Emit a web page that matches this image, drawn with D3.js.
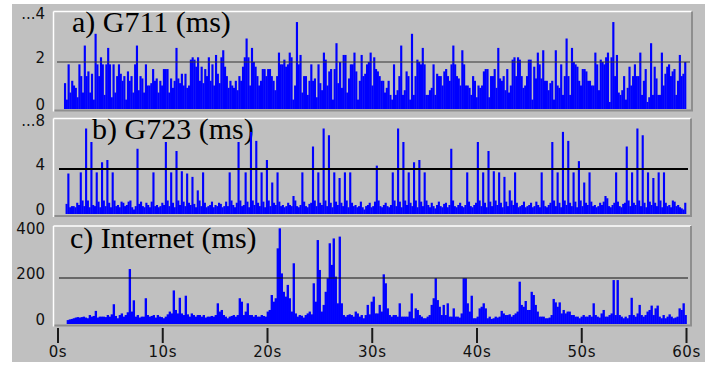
<!DOCTYPE html>
<html>
<head>
<meta charset="utf-8">
<script src="https://cdn.jsdelivr.net/npm/d3@7"></script>
<style>
  body { margin: 0; background: #fff; }
  svg { display: block; }
</style>
</head>
<body>
<div id="chart"></div>
<script>
// ── Data ───────────────────────────────────────────────────────────────────
const g711Values = [
  1.1, 0.4, 1.9, 0.7, 1.2, 1.0, 0.9, 0.5, 1.9, 1.4,
  0.7, 2.7, 1.4, 1.6, 0.7, 1.5, 0.4, 3.2, 1.9, 1.4,
  2.2, 1.9, 0.6, 1.9, 2.6, 1.9, 0.5, 1.9, 0.7, 1.4,
  1.9, 1.5, 1.2, 1.4, 0.4, 1.6, 1.2, 1.4, 0.7, 1.9,
  2.7, 0.8, 1.4, 1.3, 0.7, 1.9, 1.0, 1.0, 1.1, 1.7,
  1.2, 1.3, 0.7, 1.2, 1.0, 1.7, 1.7, 1.7, 0.7, 1.3,
  0.9, 1.2, 2.6, 1.3, 1.1, 1.5, 1.0, 1.5, 0.9, 1.0,
  2.1, 2.2, 2.1, 1.8, 2.2, 1.2, 1.8, 1.1, 1.7, 1.4,
  2.2, 1.2, 1.9, 1.0, 2.3, 1.5, 1.1, 2.2, 2.5, 1.8,
  1.4, 0.9, 1.2, 1.0, 0.9, 1.2, 0.8, 1.4, 1.2, 1.8,
  2.2, 3.0, 2.2, 1.0, 2.6, 2.0, 1.8, 1.4, 1.0, 1.2,
  1.7, 1.7, 1.4, 1.7, 1.7, 1.4, 1.2, 0.8, 1.4, 2.4,
  1.9, 1.9, 2.1, 1.8, 1.9, 2.4, 2.2, 0.4, 1.0, 3.7,
  1.9, 2.3, 0.7, 1.4, 1.4, 0.6, 1.2, 1.9, 1.2, 1.3,
  0.5, 1.9, 1.1, 0.8, 2.4, 2.1, 1.0, 1.6, 1.7, 0.4,
  1.7, 2.8, 1.1, 2.0, 0.9, 2.3, 2.3, 0.7, 1.3, 1.9,
  1.9, 2.4,
  1.6, 0.4, 1.2, 2.3, 1.4, 1.5, 1.9, 2.0, 2.4, 1.0,
  2.2, 1.7, 1.6, 1.4, 1.2, 1.2, 0.7, 0.9, 1.2, 0.6,
  0.4, 1.9, 0.6, 0.8, 1.4, 2.7, 0.6, 0.8, 1.6, 1.4,
  0.4, 3.2, 0.6, 1.4, 2.1, 2.0, 1.9, 2.6, 1.9, 0.6,
  0.6, 0.8, 0.9, 1.9, 0.6, 1.5, 1.4, 1.4, 1.0, 1.6,
  1.7, 1.4, 1.2, 1.9, 2.7, 1.9, 1.4, 1.3, 1.0, 2.5,
  1.9, 1.0, 1.0, 0.9, 0.6, 1.4, 1.2, 0.5, 1.0, 0.9,
  1.0, 1.6, 1.7, 1.7, 0.5, 1.4, 1.4, 1.7, 0.9, 2.6,
  1.3, 1.2, 1.4, 0.8, 1.7, 0.7, 1.0, 2.1, 2.2, 1.4,
  2.2, 2.1, 1.4, 0.9, 1.0, 1.4, 2.1, 2.1, 0.4, 1.8,
  1.3, 2.4, 1.9, 1.3, 2.5, 1.2, 1.2, 0.8, 1.1, 1.2,
  0.4, 2.5, 1.0, 0.9, 1.9, 0.6, 1.4, 3.0, 1.4, 0.6,
  2.6, 2.0, 1.9, 1.8, 1.2, 1.0, 1.7, 1.7, 1.6, 1.2,
  1.2, 1.0, 1.0, 2.4, 1.9, 0.8, 2.1, 2.0, 1.9, 2.2,
  2.4, 0.3, 2.2, 3.7, 1.4, 2.3, 0.7, 0.6, 0.8, 1.4,
  0.4, 0.9, 1.8, 1.0, 1.4, 1.9, 1.4, 1.4, 2.4, 0.6,
  1.2, 1.7, 0.3, 0.5, 2.8, 0.6, 1.8, 1.3, 0.6, 0.6,
  2.4, 1.0, 1.5, 1.8, 1.9, 1.4, 1.6, 1.7, 0.6, 1.2,
  2.3, 1.4, 1.5, 2.0
]

const g723Values = [
  0.9, 3.6, 0.6, 0.7, 0.7, 0.6, 1.0, 0.8, 3.7, 1.2,
  0.7, 7.6, 1.2, 0.6, 6.4, 0.8, 0.7, 3.7, 1.1, 0.6,
  4.6, 1.2, 0.7, 4.8, 1.0, 0.6, 3.7, 1.2, 0.7, 0.8,
  0.6, 1.1, 1.0, 0.7, 0.8, 1.1, 1.2, 0.6, 0.4, 0.7,
  5.8, 0.9, 1.1, 0.7, 0.6, 1.0, 0.8, 0.6, 1.1, 3.7,
  0.7, 0.8, 0.6, 0.7, 1.0, 0.8, 6.4, 1.2, 0.7, 3.7,
  1.0, 0.6, 5.6, 1.2, 0.8, 3.8, 1.1, 0.7, 3.6, 1.0,
  0.8, 3.3, 0.9, 0.6, 2.1, 1.2, 0.7, 3.7, 1.0, 0.6,
  0.7, 0.8, 1.1, 0.6, 0.8, 0.7, 1.0, 0.9, 0.6, 0.7,
  1.1, 0.7, 3.7, 1.2, 0.8, 0.6, 1.0, 6.4, 1.2, 0.7,
  0.8, 3.7, 1.1, 0.6, 7.3, 1.2, 0.8, 6.5, 1.0, 0.7,
  3.7, 1.1, 0.6, 4.8, 1.2, 0.7, 2.8, 1.0, 0.8, 3.7,
  1.1, 0.7, 0.8, 0.6, 0.7, 1.0, 0.8, 0.7, 1.6, 1.2,
  0.7, 0.6, 0.8, 3.7, 1.1, 0.7, 0.6, 0.9, 1.0, 6.0,
  1.2, 0.7, 3.7, 1.0, 0.8, 7.6, 1.2, 0.7, 7.0, 1.0,
  0.6, 3.7, 1.1, 0.8, 3.2, 1.0, 0.7, 3.7, 1.2, 0.6,
  3.7, 1.0, 0.7, 0.8, 0.6, 0.7, 1.1, 0.6, 0.4, 0.7,
  0.8, 1.0, 0.6, 0.7, 1.1, 4.3, 1.2, 0.7, 0.6, 0.8,
  1.0, 0.7, 0.6, 0.8, 3.7, 1.2, 0.7, 7.6, 1.1, 0.6,
  6.4, 1.2, 0.8, 3.7, 1.0, 0.7, 4.6, 1.2, 0.6, 4.8,
  1.1, 0.7, 3.7, 1.2, 0.8, 0.6, 1.0, 0.7, 0.5, 0.8,
  1.1, 0.7, 0.6, 0.9, 1.0, 0.6, 0.8, 5.8, 1.2, 0.7,
  0.6, 0.8, 1.0, 0.7, 0.6, 0.8, 3.7, 1.1, 0.7, 0.6,
  0.8, 1.0, 6.4, 1.2, 0.7, 3.7, 1.0, 0.6, 5.6, 1.1,
  0.7, 3.8, 1.2, 0.8, 3.7, 1.0, 0.6, 3.3, 1.1, 0.7,
  2.1, 1.2, 0.8, 3.7, 1.0, 0.6, 0.7, 0.8, 1.1, 0.6,
  0.7, 0.8, 1.0, 0.6, 0.7, 1.1, 0.8, 0.6, 3.7, 1.2,
  0.7, 0.6, 0.8, 1.0, 6.4, 1.2, 0.7, 3.7, 1.0, 0.6,
  7.3, 1.2, 0.8, 6.5, 1.0, 0.7, 3.7, 1.1, 0.6, 4.7,
  1.2, 0.7, 2.8, 1.0, 0.8, 3.7, 1.1, 0.7, 0.8, 0.6,
  0.7, 1.0, 0.8, 1.1, 1.6, 1.4, 0.7, 0.6, 0.8, 1.0,
  3.7, 1.1, 0.7, 0.6, 0.9, 1.0, 6.0, 1.2, 0.7, 3.7,
  1.0, 0.8, 7.6, 1.2, 0.7, 7.0, 1.0, 0.6, 3.7, 1.1,
  0.8, 3.2, 1.0, 0.7, 3.7, 1.2, 0.6, 3.7, 1.0, 0.7,
  0.8, 0.6, 1.2, 1.1, 0.7, 0.8, 0.6, 0.5, 0.4, 1.0
]

const internetValues = [
  17, 20, 22, 25, 28, 30, 28, 30, 32, 28,
  25, 39, 32, 35, 57, 28, 32, 32, 32, 30,
  39, 32, 42, 86, 35, 25, 39, 46, 32, 39,
  51, 239, 54, 103, 32, 39, 28, 32, 32, 112,
  39, 32, 35, 39, 28, 39, 32, 30, 25, 32,
  42, 54, 46, 146, 61, 46, 114, 46, 39, 123,
  42, 32, 46, 39, 32, 39, 39, 32, 39, 28,
  32, 32, 35, 32, 39, 90, 54, 61, 39, 32,
  25, 32, 35, 39, 32, 39, 112, 97, 39, 54,
  90, 39, 39, 32, 39, 32, 32, 39, 35, 32,
  54, 61, 126, 97, 112, 329, 416, 220, 140, 119,
  170, 112, 54, 264, 46, 32, 39, 36, 28, 39,
  46, 54, 42, 177, 97, 365, 235, 54, 83, 140,
  199, 351, 257, 372, 206, 90, 380, 90, 39, 32,
  39, 42, 39, 32, 54, 46,
  32, 39, 25, 39, 83, 42, 97, 119, 46, 46,
  83, 54, 216, 177, 68, 39, 32, 39, 39, 32,
  90, 32, 32, 32, 32, 54, 133, 25, 68, 61,
  39, 32, 25, 25, 32, 39, 83, 112, 199, 104,
  75, 39, 83, 39, 90, 32, 32, 68, 32, 32,
  28, 46, 199, 199, 90, 54, 123, 25, 25, 32,
  68, 75, 90, 68, 25, 32, 22, 25, 32, 28,
  32, 57, 46, 39, 39, 42, 32, 39, 46, 54,
  184, 83, 75, 100, 61, 61, 140, 126, 83, 54,
  32, 32, 32, 25, 25, 28, 39, 109, 94, 75,
  94, 46, 61, 46, 54, 54, 39, 39, 32, 32,
  25, 32, 39, 32, 32, 39, 32, 90, 39, 32,
  28, 46, 61, 32, 32, 39, 46, 191, 39, 191,
  39, 32, 25, 32, 25, 39, 114, 39, 32, 46,
  83, 39, 32, 39, 54, 61, 80, 39, 68, 80,
  32, 25, 39, 25, 32, 42, 32, 25, 28, 32,
  68, 61, 90, 39
]

const panelTitles = ['a) G711 (ms)', 'b) G723 (ms)', 'c) Internet (ms)']
const refLevels = [2, 4, 200]
const g711Ticks = [0, 2, 4]
const g711TickLabels = ['0', '2', '...4']
const g723Ticks = [0, 4, 8]
const g723TickLabels = ['0', '4', '...8']
const internetTicks = [0, 200, 400]
const internetTickLabels = ['0', '200', '400']
const timeTicks = [0, 10, 20, 30, 40, 50, 60]
const timeTickLabels = ['0s', '10s', '20s', '30s', '40s', '50s', '60s']

// ── Layout ─────────────────────────────────────────────────────────────────
const W = 716
const H = 366
const BG = '#c0c0c0'
const BLUE = '#0000ff'
const LABEL_FONT = "'DejaVu Sans', sans-serif"
const TITLE_FONT = "'Liberation Serif', 'Times New Roman', serif"

const svg = d3.select('#chart')
  .append('svg')
  .attr('width', W)
  .attr('height', H)

svg.append('rect').attr('x', 12).attr('y', 4).attr('width', 693).attr('height', 358).attr('fill', BG)

const x = d3.scaleLinear().domain([0, 60]).range([58, 686.5])

const panels = [
  { values: g711Values, t0: 0.57, t1: 59.95, yMax: 4, yRange: [109, 15], ticks: g711Ticks, tickLabels: g711TickLabels,
    ref: refLevels[0], title: panelTitles[0], box: { l: 53.5, t: 11.5, r: 692, b: 110.5 },
    titleX: 72, titleY: 32, refColor: '#333', refWidth: 1.2, refX: [57, 690] },
  { values: g723Values, t0: 0.72, t1: 59.95, yMax: 8, yRange: [214, 124], ticks: g723Ticks, tickLabels: g723TickLabels,
    ref: refLevels[1], title: panelTitles[1], box: { l: 53.5, t: 118.5, r: 691, b: 216 },
    titleX: 92, titleY: 139, refColor: '#000', refWidth: 2, refX: [59, 688] },
  { values: internetValues, t0: 0.83, t1: 60.0, yMax: 400, yRange: [324, 232], ticks: internetTicks, tickLabels: internetTickLabels,
    ref: refLevels[2], title: panelTitles[2], box: { l: 53.5, t: 226, r: 691, b: 325.5 },
    titleX: 70, titleY: 248, refColor: '#111', refWidth: 1, refX: [59, 688] },
]

panels.forEach(p => {
  const y = d3.scaleLinear().domain([0, p.yMax]).range(p.yRange)
  const g = svg.append('g')
  const b = p.box

  // sunken frame: light top/left, dark bottom/right
  g.append('line').attr('x1', b.l).attr('x2', b.r).attr('y1', b.t).attr('y2', b.t).attr('stroke', '#fff').attr('stroke-width', 1.5)
  g.append('line').attr('x1', b.l).attr('x2', b.l).attr('y1', b.t).attr('y2', b.b + 1).attr('stroke', '#fff').attr('stroke-width', 1.5)
  g.append('line').attr('x1', b.r).attr('x2', b.r).attr('y1', b.t).attr('y2', b.b).attr('stroke', '#8e8e8e').attr('stroke-width', 2)
  g.append('line').attr('x1', b.l + 1).attr('x2', b.r + 1).attr('y1', b.b).attr('y2', b.b).attr('stroke', '#8e8e8e').attr('stroke-width', 2)

  // y tick labels
  g.selectAll('text.ytick')
    .data(p.ticks)
    .join('text')
    .attr('class', 'ytick')
    .attr('x', 45)
    .attr('y', d => Math.max(y(d) - 4, b.t + 2.5))
    .attr('dy', '0.36em')
    .attr('text-anchor', 'end')
    .attr('fill', '#111')
    .style('font-family', LABEL_FONT)
    .style('font-size', '15px')
    .text((d, i) => p.tickLabels[i])

  // title
  g.append('text')
    .attr('x', p.titleX)
    .attr('y', p.titleY)
    .attr('fill', '#000')
    .style('font-family', TITLE_FONT)
    .style('font-size', '30px')
    .text(p.title)

  // samples as bars
  const dt = (p.t1 - p.t0) / p.values.length
  const bw = x(dt) - x(0) + 0.35
  g.selectAll('rect.bar')
    .data(p.values)
    .join('rect')
    .attr('class', 'bar')
    .attr('x', (d, i) => x(p.t0 + i * dt))
    .attr('width', bw)
    .attr('y', d => y(d))
    .attr('height', d => y(0) - y(d))
    .attr('fill', BLUE)

  // threshold line
  g.append('line')
    .attr('x1', p.refX[0]).attr('x2', p.refX[1])
    .attr('y1', y(p.ref)).attr('y2', y(p.ref))
    .attr('stroke', p.refColor)
    .attr('stroke-width', p.refWidth)
})

// time axis below the last panel
const axis = svg.append('g')
axis.selectAll('line')
  .data(timeTicks)
  .join('line')
  .attr('x1', d => x(d)).attr('x2', d => x(d))
  .attr('y1', 328).attr('y2', 343)
  .attr('stroke', '#1a1a1a')
  .attr('stroke-width', 2)
axis.selectAll('text')
  .data(timeTicks)
  .join('text')
  .attr('x', d => x(d))
  .attr('y', 357)
  .attr('text-anchor', 'middle')
  .attr('fill', '#111')
  .style('font-family', LABEL_FONT)
  .style('font-size', '15px')
  .style('letter-spacing', '0.5px')
  .text((d, i) => timeTickLabels[i])
</script>
</body>
</html>
